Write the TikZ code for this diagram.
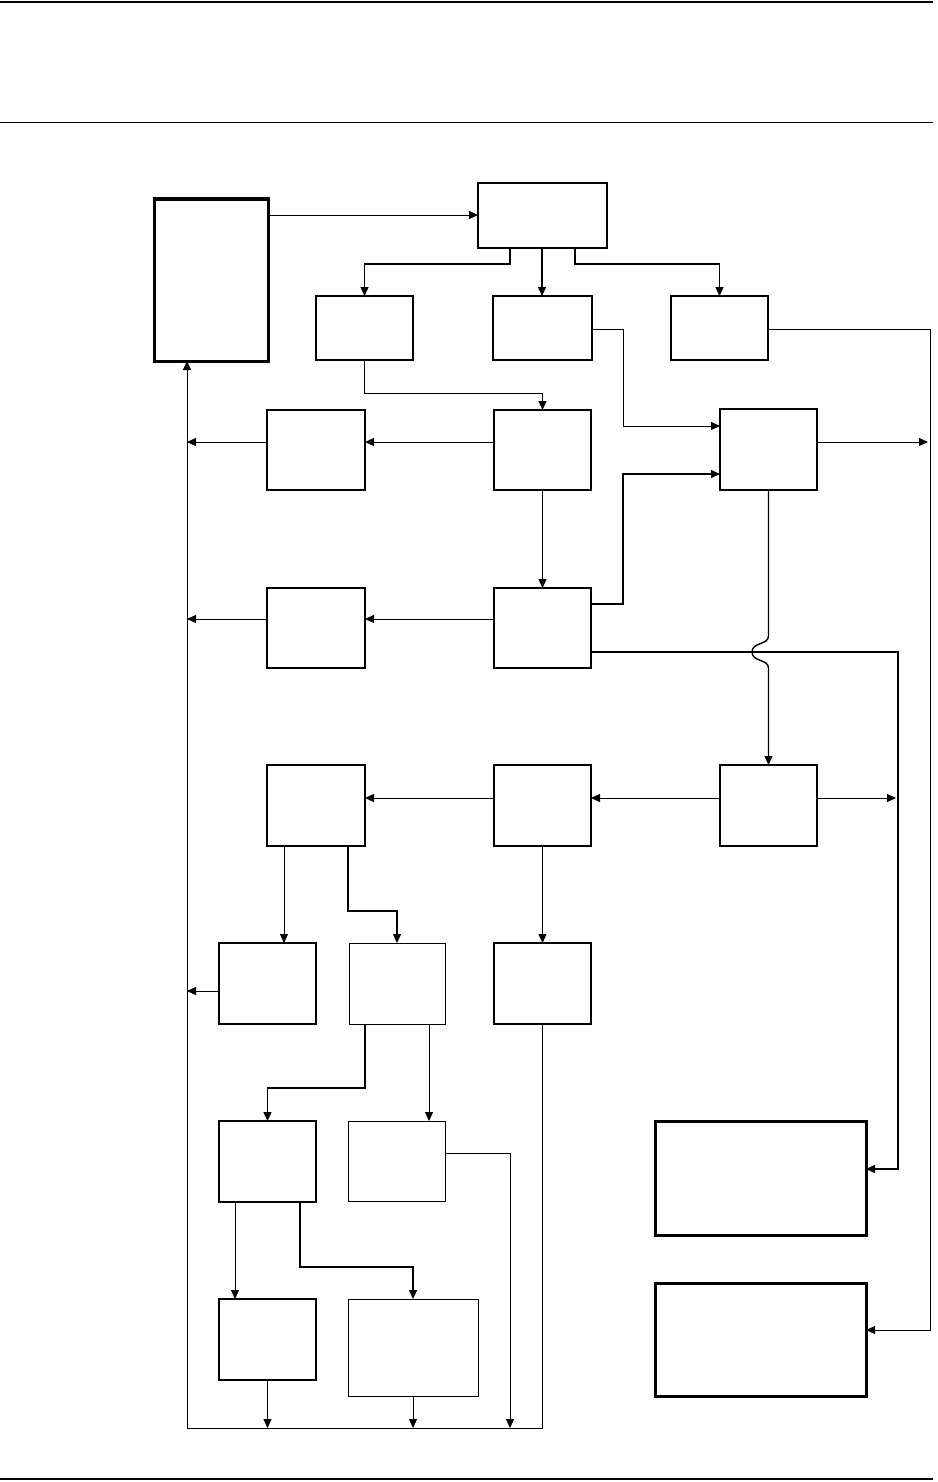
\documentclass[tikz,border=0pt]{standalone}
\usetikzlibrary{arrows.meta}
\begin{document}
\begin{tikzpicture}[x=1pt,y=-1pt,
  box/.style={draw, line width=1.6pt, inner sep=0pt, outer sep=0pt, minimum width=97pt, minimum height=80pt},
  thinbox/.style={box, line width=1pt},
  thickbox/.style={box, line width=3pt},
  conn/.style={line width=1pt},
  arr/.style={conn, -{Triangle[length=9pt,width=8pt]}},
  harr/.style={arr, line width=1.4pt},
  rule/.style={line width=2pt}]
\useasboundingbox (0,0) rectangle (937,1482);
% page rules
\draw[rule] (0,2) -- (933,2);
\draw[line width=1pt] (0,123) -- (933,123);
\draw[rule] (0,1479) -- (933,1479);
% boxes
\node[thickbox, minimum width=114pt, minimum height=162pt] (a) at (211,280) {};
\node[box, minimum width=129pt, minimum height=65pt] (b) at (542.5,215.5) {};
\node[box, minimum height=64pt] (c1) at (364.5,328) {};
\node[box, minimum width=99pt, minimum height=64pt] (c2) at (542.5,328) {};
\node[box, minimum height=64pt] (c3) at (719.5,328) {};
\node[box, minimum width=98pt] (d1) at (316,450) {};
\node[box] (d2) at (542.5,450) {};
\node[box, minimum height=81pt] (e) at (768.5,449.5) {};
\node[box, minimum width=98pt] (f1) at (316,628) {};
\node[box] (f2) at (542.5,628) {};
\node[box, minimum width=98pt, minimum height=81pt] (g1) at (316,805.5) {};
\node[box, minimum height=81pt] (g2) at (542.5,805.5) {};
\node[box, minimum height=81pt] (g3) at (768.5,805.5) {};
\node[box, minimum height=81pt] (h1) at (267.5,983.5) {};
\node[thinbox, minimum width=96pt, minimum height=81pt] (h2) at (397,983.5) {};
\node[box, minimum height=81pt] (h3) at (542.5,983.5) {};
\node[box, minimum height=81pt] (i1) at (267.5,1161.5) {};
\node[thinbox, minimum height=80pt] (i2) at (396.5,1161) {};
\node[box, minimum height=81pt] (j1) at (267.5,1339.5) {};
\node[thinbox, minimum width=130pt, minimum height=97pt] (j2) at (413,1347.5) {};
\node[thickbox, minimum width=211pt, minimum height=114pt] (z1) at (760.5,1178) {};
\node[thickbox, minimum width=211pt, minimum height=113pt] (z2) at (760.5,1339.5) {};
% bus coordinates
\coordinate (busR) at (928,442);
\coordinate (busG) at (896,798);
% connectors
\draw[arr] (a.east |- 0,215) -- (b.west |- 0,215);
\draw[harr] (b.south -| 510,0) -- (510,264) -| (c1.north);
\draw[harr] (b.south -| 542,0) -- (c2.north -| 542,0);
\draw[harr] (b.south -| 575,0) -- (575,264) -| (c3.north);
\draw[arr] (c1.south) -- (364.5,393) -| (d2.north);
\draw[arr] (c2.east |- 0,329) -- (623,329) |- (e.west |- 0,426);
\draw[arr] (c3.east |- 0,329) -- (930,329) |- (z2.east |- 0,1330);
\draw[arr] (e.east |- 0,442) -- (busR);
\draw[arr] (d2.west |- 0,442) -- (d1.east |- 0,442);
\draw[arr] (d1.west |- 0,442) -- (187,442);
\draw[arr] (d2.south) -- (f2.north);
\draw[arr] (f2.west |- 0,619) -- (f1.east |- 0,619);
\draw[arr] (f1.west |- 0,619) -- (187,619);
\draw[harr] (f2.east |- 0,604) -- (623,604) |- (e.west |- 0,474);
\draw[harr] (f2.east |- 0,652) -- (898,652) |- (z1.east |- 0,1169);
\draw[harr] (e.south) -- (768.5,636) .. controls (768.5,645) and (752,642) .. (752,652)
  .. controls (752,662) and (768.5,659) .. (768.5,668) -- (g3.north);
\draw[arr] (g3.west |- 0,798) -- (g2.east |- 0,798);
\draw[arr] (g2.west |- 0,798) -- (g1.east |- 0,798);
\draw[arr] (g3.east |- 0,798) -- (busG);
\draw[arr] (g1.south -| 284,0) -- (h1.north -| 284,0);
\draw[harr] (g1.south -| 348,0) -- (348,911) -| (h2.north);
\draw[arr] (g2.south) -- (h3.north);
\draw[arr] (h1.west |- 0,991) -- (187,991);
\draw[harr] (h2.south -| 365,0) -- (365,1088) -| (i1.north);
\draw[arr] (h2.south -| 429,0) -- (i2.north -| 429,0);
\draw[arr] (h3.south) -- (542.5,1428) -- (187,1428) -- (a.south -| 187,0);
\draw[arr] (i2.east |- 0,1153) -- (510,1153) -- (510,1428);
\draw[arr] (i1.south -| 235,0) -- (j1.north -| 235,0);
\draw[harr] (i1.south -| 300,0) -- (300,1267) -| (j2.north);
\draw[arr] (j1.south) -- (267.5,1428);
\draw[arr] (j2.south) -- (413,1428);
\end{tikzpicture}
\end{document}
